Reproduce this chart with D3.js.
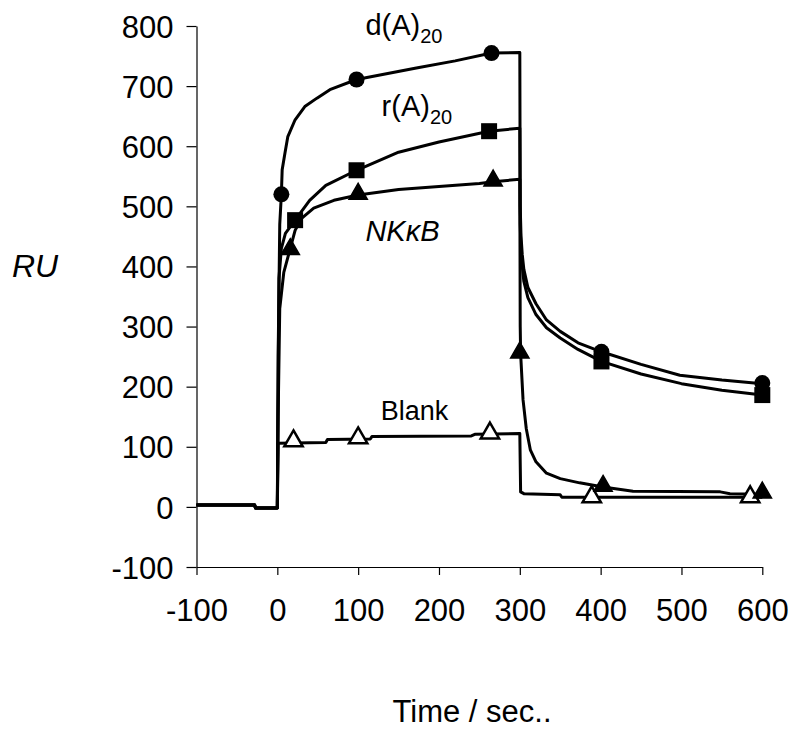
<!DOCTYPE html>
<html>
<head>
<meta charset="utf-8">
<script src="https://cdn.jsdelivr.net/npm/d3@7"></script>
<style>
  body { margin: 0; background: #fff; }
  svg text { font-family: "Liberation Sans", Arial, sans-serif; fill: #000; }
</style>
</head>
<body>
<div id="chart"></div>
<script>
// sensorgram traces: [time (s), RU]
var dA20 = [[-100,3],[-28,3],[-27,-2],[0,-2],[1,250],[3,470],[5,520],[6,561],[9.5,589],[13,616],[22,644],[34,666],[49,680],[65,694],[98,711],[172,730],[220,742],[265,755],[300,756],
  [300.5,500],[301.5,450],[303,420],[305,395],[310,365],[320,338],[333,311],[350,292],[372,273],[401,258],[450,237],[498,219],[550,211],[600,205]];
var rA20 = [[-100,3],[-28,3],[-27,-2],[0,-2],[1,200],[2,380],[5,430],[10,455],[22,477],[40,510],[60,535],[98,560],[150,590],[200,607],[262,625],[300,630],
  [300.5,470],[301.5,430],[303,400],[305,375],[310,348],[320,320],[333,298],[350,281],[372,262],[401,242],[450,221],[500,205],[550,194],[600,186]];
var nfkb = [[-100,3],[-28,3],[-27,-2],[0,-2],[1,150],[3,330],[8,390],[16,430],[22,460],[30,480],[45,497],[70,510],[100,519],[150,528],[200,533],[250,538],[267,541],[300,545],
  [300.5,300],[301,255],[304,178],[308,130],[313,95],[320,75],[333,56],[350,47],[374,40],[403,33],[440,26],[548,25],[560,22],[600,21]];
var blank = [[-100,3],[-28,3],[-27,-2],[0,-2],[1,106],[60,107],[62,112],[115,113],[117,117],[240,118],[245,121],[300,122],
  [301,25],[305,22],[350,20],[352,16],[600,16]];

// marker points
var dA20_marks = [[5,520],[98,711],[265,755],[401,258],[600,206]];
var rA20_marks = [[22,477],[98,560],[262,625],[401,242],[600,186]];
var nfkb_marks = [[16,427],[100,519],[267,541],[300,255],[403,33],[600,22]];
var blank_marks = [[20,108],[100,113],[263,121],[389,15],[585,15]];

var xTicks = [-100,0,100,200,300,400,500,600];
var yTicks = [-100,0,100,200,300,400,500,600,700,800];

var width = 799, height = 756;
var svg = d3.select("#chart").append("svg").attr("width", width).attr("height", height);

var x = d3.scaleLinear().domain([-100,600]).range([196.5,762.3]);
var y = d3.scaleLinear().domain([-100,800]).range([567,26]);

// axes
var yAxis = svg.append("g").attr("transform","translate(196.5,0)")
  .call(d3.axisLeft(y).tickValues(yTicks).tickSize(10).tickSizeOuter(0).tickPadding(13).tickFormat(function(d){return String(d);}));
var xAxis = svg.append("g").attr("transform","translate(0,567)")
  .call(d3.axisBottom(x).tickValues(xTicks).tickSize(8).tickSizeOuter(0).tickPadding(10).tickFormat(function(d){return String(d);}));
[xAxis, yAxis].forEach(function(a){
  a.select(".domain").attr("stroke","#000").attr("stroke-width",1.2);
  a.selectAll(".tick line").attr("stroke","#000").attr("stroke-width",1.2);
  a.selectAll("text").attr("font-size",31).attr("font-family","Liberation Sans, Arial, sans-serif").attr("fill","#000");
});
yAxis.selectAll("text").attr("dy","0.36em");
xAxis.selectAll("text").attr("dy","0.71em").attr("y",32);

var line = d3.line().x(function(d){return x(d[0]);}).y(function(d){return y(d[1]);});

var plot = svg.append("g");
[blank, nfkb, rA20, dA20].forEach(function(s){
  plot.append("path").datum(s).attr("d", line)
    .attr("fill","none").attr("stroke","#000").attr("stroke-width",3).attr("stroke-linejoin","round");
});

// markers
var tri = d3.symbol().type(d3.symbolTriangle).size(145);
plot.append("g").selectAll("path").data(blank_marks).enter().append("path")
  .attr("d", tri).attr("transform", function(d){return "translate("+x(d[0])+","+(y(d[1])-1)+")";})
  .attr("fill","#fff").attr("stroke","#000").attr("stroke-width",2.5);
plot.append("g").selectAll("path").data(nfkb_marks).enter().append("path")
  .attr("d", tri).attr("transform", function(d){return "translate("+x(d[0])+","+(y(d[1])-1)+")";})
  .attr("fill","#000").attr("stroke","#000").attr("stroke-width",1.5);
plot.append("g").selectAll("rect").data(rA20_marks).enter().append("rect")
  .attr("x", function(d){return x(d[0])-8;}).attr("y", function(d){return y(d[1])-8;})
  .attr("width",16).attr("height",16).attr("fill","#000");
plot.append("g").selectAll("circle").data(dA20_marks).enter().append("circle")
  .attr("cx", function(d){return x(d[0]);}).attr("cy", function(d){return y(d[1]);})
  .attr("r",8).attr("fill","#000");

// series labels
function subLabel(main, sub, tx, ty){
  var t = svg.append("text").attr("x", x(tx)).attr("y", y(ty)).attr("font-size",29);
  t.append("tspan").text(main);
  t.append("tspan").attr("dy",8).attr("font-size",20).text(sub);
}
subLabel("d(A)", "20", 109, 785);
subLabel("r(A)", "20", 129, 650);
svg.append("text").attr("x", x(109)).attr("y", y(442)).attr("font-size",29)
  .attr("font-style","italic").text("NK\u03BAB");
svg.append("text").attr("x", x(128)).attr("y", y(145)).attr("font-size",27).text("Blank");

// axis titles
svg.append("text").attr("x",12).attr("y",277).attr("font-size",32).attr("font-style","italic").text("RU");
svg.append("text").attr("x",472).attr("y",722).attr("font-size",31).attr("text-anchor","middle").text("Time / sec..");
</script>
</body>
</html>
